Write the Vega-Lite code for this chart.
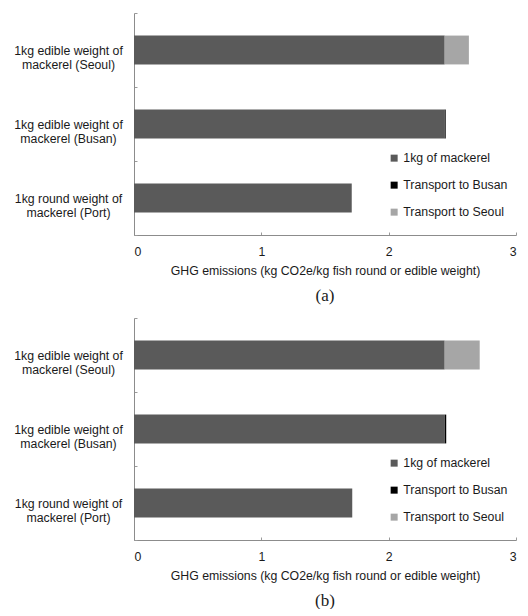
{
  "$schema": "https://vega.github.io/schema/vega-lite/v6.json",
  "padding": {"left": 13, "top": 7, "right": 5, "bottom": 0},
  "background": "white",
  "config": {
    "view": {"stroke": null},
    "font": "Liberation Sans",
    "axis": {
      "domainColor": "#8c8c8c",
      "tickColor": "#9a9a9a",
      "tickSize": -3,
      "grid": false,
      "labelFont": "Liberation Sans",
      "labelFontSize": 12.3,
      "labelColor": "#1a1a1a",
      "titleFont": "Liberation Sans",
      "titleFontSize": 12.3,
      "titleFontWeight": "normal",
      "titleColor": "#1a1a1a"
    },
    "legend": {
      "labelFont": "Liberation Sans",
      "labelFontSize": 12.3,
      "labelColor": "#1a1a1a",
      "symbolType": "square",
      "symbolSize": 49,
      "symbolStrokeWidth": 0,
      "rowPadding": 14,
      "labelOffset": 3
    },
    "title": {
      "font": "Liberation Serif",
      "fontSize": 17,
      "fontWeight": "normal",
      "color": "#1a1a1a"
    }
  },
  "datasets": {
    "ghg": [
      {"panel": "a", "stage": "1kg round weight of\nmackerel (Port)", "component": "1kg of mackerel", "value": 1.71},
      {"panel": "a", "stage": "1kg edible weight of\nmackerel (Busan)", "component": "1kg of mackerel", "value": 2.44},
      {"panel": "a", "stage": "1kg edible weight of\nmackerel (Busan)", "component": "Transport to Busan", "value": 0.008},
      {"panel": "a", "stage": "1kg edible weight of\nmackerel (Seoul)", "component": "1kg of mackerel", "value": 2.44},
      {"panel": "a", "stage": "1kg edible weight of\nmackerel (Seoul)", "component": "Transport to Seoul", "value": 0.19},
      {"panel": "b", "stage": "1kg round weight of\nmackerel (Port)", "component": "1kg of mackerel", "value": 1.714},
      {"panel": "b", "stage": "1kg edible weight of\nmackerel (Busan)", "component": "1kg of mackerel", "value": 2.44},
      {"panel": "b", "stage": "1kg edible weight of\nmackerel (Busan)", "component": "Transport to Busan", "value": 0.012},
      {"panel": "b", "stage": "1kg edible weight of\nmackerel (Seoul)", "component": "1kg of mackerel", "value": 2.44},
      {"panel": "b", "stage": "1kg edible weight of\nmackerel (Seoul)", "component": "Transport to Seoul", "value": 0.275}
    ]
  },
  "spacing": 8,
  "vconcat": [
    {
      "title": {"text": "(a)", "orient": "bottom", "offset": 11},
      "width": 382,
      "height": 222,
      "data": {"name": "ghg"},
      "transform": [{"filter": "datum.panel === 'a'"}],
      "mark": {"type": "bar", "height": {"band": 0.39}},
      "encoding": {
        "y": {
          "field": "stage",
          "type": "nominal",
          "sort": ["1kg edible weight of\nmackerel (Seoul)", "1kg edible weight of\nmackerel (Busan)", "1kg round weight of\nmackerel (Port)"],
          "scale": {"paddingInner": 0, "paddingOuter": 0},
          "axis": {
            "title": null,
            "tickBand": "extent",
            "labelAlign": "center",
            "labelBaseline": "middle",
            "labelPadding": 69,
            "labelLineHeight": 14,
            "labelExpr": "split(datum.label, '\\n')"
          }
        },
        "x": {
          "field": "value",
          "type": "quantitative",
          "stack": "zero",
          "scale": {"domain": [0, 3], "nice": false},
          "axis": {
            "title": "GHG emissions (kg CO2e/kg  fish round or edible weight)",
            "values": [0, 1, 2, 3],
            "format": "d",
            "labelPadding": 13,
            "titlePadding": 7
          }
        },
        "color": {
          "field": "component",
          "type": "nominal",
          "scale": {
            "domain": ["1kg of mackerel", "Transport to Busan", "Transport to Seoul"],
            "range": ["#5a5a5a", "#000000", "#a6a6a6"]
          },
          "legend": {"title": null, "orient": "none", "legendX": 254, "legendY": 139}
        }
      }
    },
    {
      "title": {"text": "(b)", "orient": "bottom", "offset": 11},
      "width": 382,
      "height": 222,
      "data": {"name": "ghg"},
      "transform": [{"filter": "datum.panel === 'b'"}],
      "mark": {"type": "bar", "height": {"band": 0.39}},
      "encoding": {
        "y": {
          "field": "stage",
          "type": "nominal",
          "sort": ["1kg edible weight of\nmackerel (Seoul)", "1kg edible weight of\nmackerel (Busan)", "1kg round weight of\nmackerel (Port)"],
          "scale": {"paddingInner": 0, "paddingOuter": 0},
          "axis": {
            "title": null,
            "tickBand": "extent",
            "labelAlign": "center",
            "labelBaseline": "middle",
            "labelPadding": 69,
            "labelLineHeight": 14,
            "labelExpr": "split(datum.label, '\\n')"
          }
        },
        "x": {
          "field": "value",
          "type": "quantitative",
          "stack": "zero",
          "scale": {"domain": [0, 3], "nice": false},
          "axis": {
            "title": "GHG emissions (kg CO2e/kg  fish round or edible weight)",
            "values": [0, 1, 2, 3],
            "format": "d",
            "labelPadding": 13,
            "titlePadding": 7
          }
        },
        "color": {
          "field": "component",
          "type": "nominal",
          "scale": {
            "domain": ["1kg of mackerel", "Transport to Busan", "Transport to Seoul"],
            "range": ["#5a5a5a", "#000000", "#a6a6a6"]
          },
          "legend": {"title": null, "orient": "none", "legendX": 254, "legendY": 139}
        }
      }
    }
  ],
  "resolve": {"scale": {"color": "independent"}, "legend": {"color": "independent"}}
}
